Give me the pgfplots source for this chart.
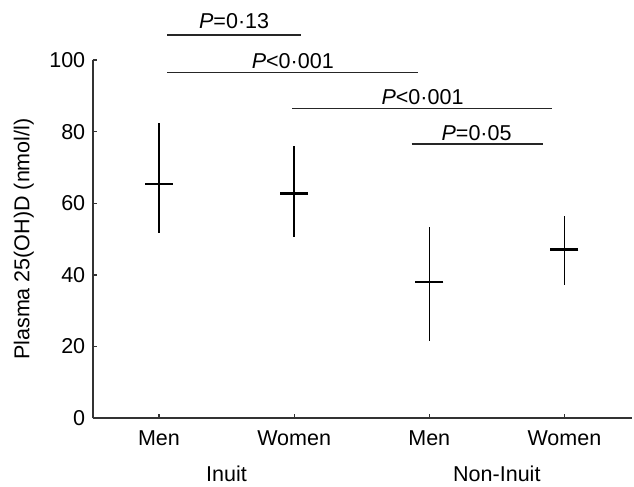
\documentclass[border=0pt]{standalone}
\usepackage{pgfplots}
\pgfplotsset{compat=1.18}
\usepackage{fontspec}
\setmainfont{Liberation Sans}
\newcommand{\bigf}{\fontsize{21.5}{25}\selectfont}

\begin{document}
\begin{tikzpicture}
  \begin{axis}[
      name=ax,
      scale only axis,
      width=539pt, height=358pt,
      xmin=-0.49, xmax=3.5,
      ymin=0, ymax=100,
      axis x line=bottom, axis y line=left,
      axis line style={-, line width=1.6pt, black!80},
      tick align=inside,
      major tick length=4pt,
      tick style={line width=1.2pt, black!80},
      xtick={0,1,2,3},
      xticklabels={Men,Women,Men,Women},
      ytick={0,20,40,60,80,100},
      /pgf/number format/assume math mode=true,
      tick label style={font=\bigf},
      xticklabel style={yshift=-9pt},
      yticklabel style={xshift=-4pt},
      ylabel={Plasma 25(OH)D (nmol/l)},
      ylabel style={font=\bigf, at={(axis description cs:0,0.5)}, anchor=center, yshift=69pt},
      clip=false,
    ]
    % means with range bars
    \addplot[only marks, mark=-, mark size=14pt, mark options={line width=2.4pt, black},
      error bars/.cd, y dir=both, y explicit, error mark=none,
      error bar style={line width=1.3pt, black}]
      coordinates {
        (0,65.4) += (0,17.0) -= (0,13.6)
        (1,62.7) += (0,13.2) -= (0,12.2)
        (2,38.1) += (0,15.2) -= (0,16.5)
        (3,47.1) += (0,9.4)  -= (0,9.9)
      };
    % comparison lines
    \addplot[no marks, line width=1.4pt, black!85] coordinates {(0.06,107.0) (1.05,107.0)};
    \addplot[no marks, line width=1.4pt, black!85] coordinates {(0.06,96.5) (1.92,96.5)};
    \addplot[no marks, line width=1.4pt, black!85] coordinates {(0.985,86.4) (2.91,86.4)};
    \addplot[no marks, line width=1.4pt, black!85] coordinates {(1.87,76.5) (2.84,76.5)};

    \node[font=\bigf, anchor=base, yshift=6pt] at (axis cs:0.556,107.0) {\textit{P}=0·13};
    \node[font=\bigf, anchor=base, yshift=4pt] at (axis cs:0.99,96.5) {\textit{P}<0·001};
    \node[font=\bigf, anchor=base, yshift=4pt] at (axis cs:1.95,86.4) {\textit{P}<0·001};
    \node[font=\bigf, anchor=base, yshift=4pt] at (axis cs:2.35,76.5) {\textit{P}=0·05};

    \node[font=\bigf, anchor=north, inner sep=0pt, yshift=-47pt] at (axis cs:0.5,0) {Inuit};
    \node[font=\bigf, anchor=north, inner sep=0pt, yshift=-47pt] at (axis cs:2.5,0) {Non-Inuit};
  \end{axis}
  \path (ax.south west) ++(-92.7pt,-68pt) coordinate (bl);
  \path (ax.north east) ++(2pt,60pt) coordinate (tr);
  \pgfresetboundingbox
  \path[use as bounding box] (bl) rectangle (tr);
\end{tikzpicture}
\end{document}
